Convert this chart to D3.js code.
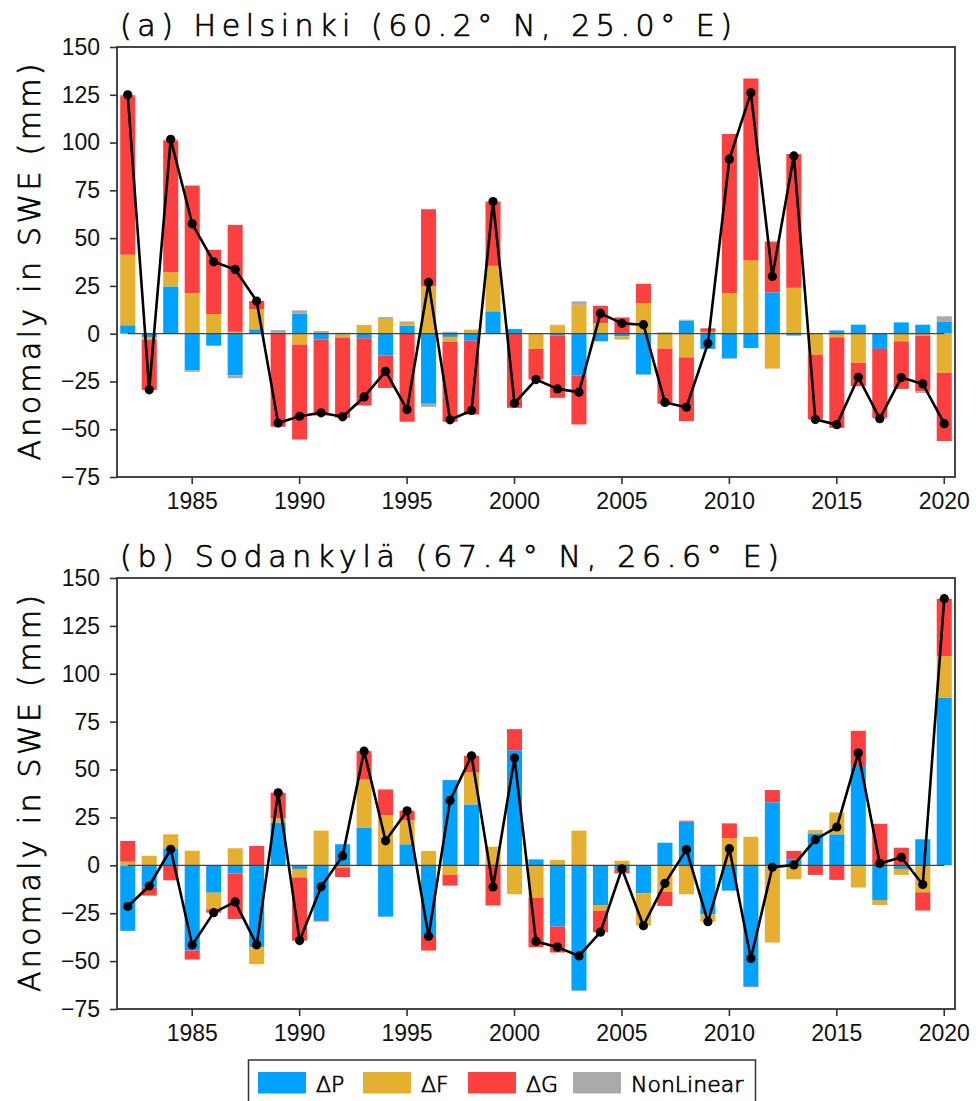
<!DOCTYPE html>
<html>
<head>
  <meta charset="UTF-8">
  <title>SWE anomaly decomposition</title>
  <script src="https://d3js.org/d3.v7.min.js"></script>
  <style>
    body { margin: 0; background: #fff; }
    text { font-family: "Liberation Sans", Arial, sans-serif; fill: #111; }
    .label { font-family: "DejaVu Sans", sans-serif; font-weight: 200; fill: #000; stroke: #000; stroke-width: 0.7px; }
  </style>
</head>
<body>
  <div id="chart"></div>
  <script>
    const years = [1982, 1983, 1984, 1985, 1986, 1987, 1988, 1989, 1990, 1991,
      1992, 1993, 1994, 1995, 1996, 1997, 1998, 1999, 2000, 2001,
      2002, 2003, 2004, 2005, 2006, 2007, 2008, 2009, 2010, 2011,
      2012, 2013, 2014, 2015, 2016, 2017, 2018, 2019, 2020];
    const yearTicks = [1985, 1990, 1995, 2000, 2005, 2010, 2015, 2020];
    const yTicks = [-75, -50, -25, 0, 25, 50, 75, 100, 125, 150];

    // (a) Helsinki
    const helP = [4.4, -1.9, 24.7, -19.2, -6.3, -21.8, 2.3, 0, 10.4, -3.1,
      -0.5, -2.4, -11.5, 4.2, -36.7, -1.7, -3.7, 11.7, 2.4, 0,
      -1, -21.9, -4, -1.4, -21.4, 0, 6.8, -8, -12.7, -7.5,
      21.6, -1, 0, 1.7, 4.7, -8, 5.9, 4.7, 6.1];
    const helF = [36.9, -1.2, 7.5, 21.2, 10.3, 1.0, 10.6, 0, -5.7, 0,
      -1.5, 4.5, 7.7, 1.4, 24.7, -2.5, 2.1, 23.8, 0, -8,
      4.4, 15.1, 5.6, -1.7, 16, -7.8, -12.4, 1, 21.2, 38.3,
      -18.3, 24, -11, -1.9, -15.3, 0, -4, -1, -20.5];
    const helG = [83.0, -26.4, 68.8, 56.3, 33.6, 55.9, 4.2, -48.7, -49.7, -39.7,
      -42, -35.2, -16.9, -46.1, 40.4, -41.9, -38.6, 33.6, -38.8, -16,
      -32.6, -25.6, 9, 8.5, 10.1, -28.9, -33.4, 1.8, 83.3, 95.2,
      26.6, 70, -33.9, -47.4, -12.2, -36, -24.9, -29.1, -35.7];
    const helN = [0.7, 0, 0.7, -0.8, 0, -1.5, 0, 1.9, 1.8, 1.4,
      0.5, 0, 1.0, 0.8, -1.6, 1.0, 0, 0, 0, 0,
      0.3, 1.8, 0, 0, 0, 0.7, 0.5, 0, -0.5, 0,
      0, 0, 0, 0, 0, -0.5, 0, -0.9, 3.0];
    const helTotal = [125, -29.4, 101.7, 57.5, 37.6, 33.6, 17.1, -46.8, -43.2, -41.4,
      -43.5, -33.1, -19.7, -39.7, 26.8, -45.1, -40.2, 69.1, -36.4, -24,
      -28.9, -30.6, 10.6, 5.4, 4.7, -36, -38.5, -5.2, 91.3, 126,
      29.9, 93, -44.9, -47.6, -22.8, -44.5, -23, -26.3, -47.1];

    // (b) Sodankylä
    const sodP = [-34.2, -11.6, 8.9, -44.5, -14.3, -4.3, -42.8, 22.2, -1.9, -29,
      11, 19.8, -26.8, 11, -36.9, 44.5, 31.8, 0, 60.1, 3.1,
      -32, -65.4, -20.7, -2.4, -14.6, 11.8, 22.8, -25.6, -13.2, -63.3,
      32.9, 3.1, 16.7, 16.2, 51.8, -18.1, -1.9, 13.6, 87.6];
    const sodF = [1.9, 5.0, 7.3, 7.6, -8.6, 8.9, -8.8, 2.3, -4.4, 18.1,
      -1.2, 25, 26.2, 12.6, 7.5, -5, 16.7, 9.7, -15.1, -16.9,
      2.8, 18.1, -2.9, 2.4, -16.9, -13.7, -15.1, -3.8, 14.1, 14.9,
      -40.3, -7.3, 1.7, 11.4, -11.6, -2.6, -3.1, -14.1, 21.7];
    const sodG = [10.8, -4.2, -7.8, -4.7, -1.8, -23.7, 10.1, 13.4, -33, -0.3,
      -4.9, 14.8, 13.4, 4.9, -7.6, -5.6, 8.7, -21, 11, -25.9,
      -13.5, 0, -11.3, -1.8, 0, -7.5, 0.5, 0, 7.8, -0.3,
      6.4, 4.4, -5, -7.6, 18.4, 21.7, 9.2, -9.5, 29.9];
    const sodN = [0, 0, 0, 0, 0, 0, 0, 0, 0, 0,
      0, 0, 0, 0, 0, 0, 0, 0, 0, 0,
      0, 0, 0, 0, 0, 0, 0, 0, 0, 0,
      0, 0, 0, 0, 0, 0, 0, 0, 0];
    const sodTotal = [-21.5, -10.8, 8.4, -41.6, -24.7, -19.1, -41.5, 37.9, -39.3, -11.2,
      4.9, 59.6, 12.8, 28.5, -37, 33.9, 57.2, -11.3, 56, -39.7,
      -42.7, -47.3, -34.9, -1.8, -31.5, -9.4, 8.2, -29.4, 8.7, -48.7,
      -1, 0.2, 13.4, 20, 58.6, 1, 4.2, -10, 139.2];

    const keys = ["P", "F", "G", "N"];
    const legendLabels = ["ΔP", "ΔF", "ΔG", "NonLinear"];
    const color = d3.scaleOrdinal()
      .domain(keys)
      .range(["#00a2ff", "#e5af30", "#fc3f3f", "#aaaaaa"]);

    const width = 976, height = 1101;
    const left = 117, right = 955;

    const svg = d3.select("#chart")
      .append("svg")
      .attr("width", width)
      .attr("height", height);

    const x = d3.scaleBand()
      .domain(years)
      .range([left, right])
      .paddingInner(0.3)
      .paddingOuter(0.15);
    const bw = x.bandwidth();

    function drawPanel(top, bottom, title, titleLen, P, F, G, N, total) {
      const g = svg.append("g");

      const y = d3.scaleLinear()
        .domain([-75, 150])
        .range([bottom, top]);

      const rows = years.map((yr, i) => ({ year: yr, P: P[i], F: F[i], G: G[i], N: N[i] }));
      const series = d3.stack()
        .keys(keys)
        .offset(d3.stackOffsetDiverging)(rows);

      g.selectAll(".layer")
        .data(series)
        .enter()
        .append("g")
        .attr("fill", d => color(d.key))
        .selectAll("rect")
        .data(d => d)
        .enter()
        .append("rect")
        .attr("x", d => x(d.data.year))
        .attr("y", d => y(Math.max(d[0], d[1])))
        .attr("width", bw)
        .attr("height", d => Math.abs(y(d[0]) - y(d[1])));

      // zero line
      g.append("line")
        .attr("x1", x(years[0]) + bw / 2)
        .attr("x2", x(years[years.length - 1]) + bw / 2)
        .attr("y1", y(0))
        .attr("y2", y(0))
        .attr("stroke", "#444")
        .attr("stroke-width", 1.3);

      const pts = years.map((yr, i) => ({ year: yr, v: total[i] }));
      g.append("path")
        .datum(pts)
        .attr("fill", "none")
        .attr("stroke", "#000")
        .attr("stroke-width", 2.6)
        .attr("stroke-linejoin", "round")
        .attr("d", d3.line()
          .x(d => x(d.year) + bw / 2)
          .y(d => y(d.v)));

      g.selectAll(".dot")
        .data(pts)
        .enter()
        .append("circle")
        .attr("cx", d => x(d.year) + bw / 2)
        .attr("cy", d => y(d.v))
        .attr("r", 4.6)
        .attr("fill", "#000");

      // axes
      const xAxis = g.append("g")
        .attr("transform", "translate(0," + bottom + ")")
        .call(d3.axisBottom(x).tickValues(yearTicks).tickSize(7).tickPadding(9).tickSizeOuter(0));
      const yAxis = g.append("g")
        .attr("transform", "translate(" + left + ",0)")
        .call(d3.axisLeft(y).tickValues(yTicks).tickSize(7).tickPadding(10).tickSizeOuter(0));
      [xAxis, yAxis].forEach(a => {
        a.select(".domain").remove();
        a.selectAll("line").attr("stroke", "#333").attr("stroke-width", 1.6);
        a.selectAll("text")
          .style("font-family", "'Liberation Sans', Arial, sans-serif")
          .style("font-size", "23px")
          .attr("fill", "#111");
      });

      g.append("rect")
        .attr("x", left)
        .attr("y", top)
        .attr("width", right - left)
        .attr("height", bottom - top)
        .attr("fill", "none")
        .attr("stroke", "#333")
        .attr("stroke-width", 1.8);

      g.append("text")
        .attr("class", "label")
        .attr("x", 120)
        .attr("y", top - 11)
        .attr("textLength", titleLen)
        .attr("lengthAdjust", "spacing")
        .style("font-size", "30px")
        .text(title);

      g.append("text")
        .attr("class", "label")
        .attr("transform", "translate(40," + ((top + bottom) / 2) + ") rotate(-90)")
        .attr("text-anchor", "middle")
        .attr("textLength", 397)
        .attr("lengthAdjust", "spacing")
        .style("font-size", "30px")
        .text("Anomaly in SWE (mm)");
    }

    drawPanel(47, 477, "(a) Helsinki (60.2° N, 25.0° E)", 612,
      helP, helF, helG, helN, helTotal);
    drawPanel(578, 1009, "(b) Sodankylä (67.4° N, 26.6° E)", 659,
      sodP, sodF, sodG, sodN, sodTotal);

    // legend
    const legend = svg.append("g");
    legend.append("rect")
      .attr("x", 248.5)
      .attr("y", 1060)
      .attr("width", 507)
      .attr("height", 60)
      .attr("fill", "#fff")
      .attr("stroke", "#333")
      .attr("stroke-width", 1.5);
    const lx = d3.scalePoint()
      .domain(keys)
      .range([258, 573]);
    keys.forEach((k, i) => {
      legend.append("rect")
        .attr("x", lx(k))
        .attr("y", 1072)
        .attr("width", 48)
        .attr("height", 21.5)
        .attr("fill", color(k));
      legend.append("text")
        .attr("class", "label")
        .attr("x", lx(k) + 58)
        .attr("y", 1092)
        .style("font-size", "22px")
        .text(legendLabels[i]);
    });
  </script>
</body>
</html>
